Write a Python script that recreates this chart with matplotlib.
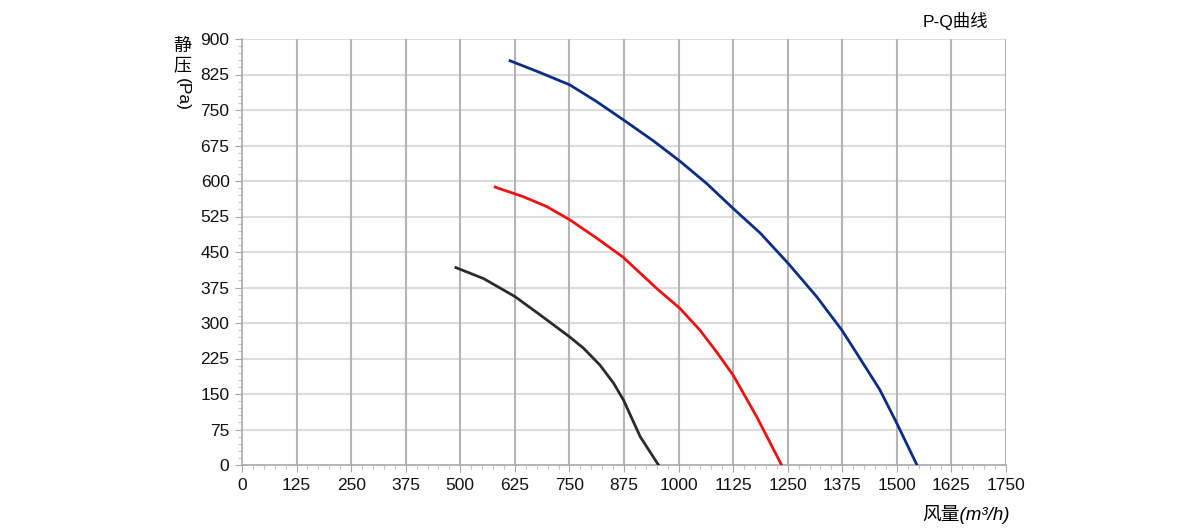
import matplotlib.pyplot as plt
from matplotlib.ticker import MultipleLocator

plt.rcParams['font.family'] = ['Liberation Sans', 'Noto Sans CJK SC', 'DejaVu Sans']

# P-Q curve data (flow m3/h, static pressure Pa)
q_low = [490, 553, 625, 683, 750, 782, 820, 851, 874, 912, 954]
p_low = [417, 394, 356, 317, 271, 247, 211, 173, 137, 60, 0]

q_mid = [580, 644, 698, 751, 813, 873, 950, 1003, 1049, 1087, 1125, 1179, 1236]
p_mid = [587, 567, 546, 518, 479, 439, 373, 331, 285, 239, 190, 102, 0]

q_high = [614, 683, 751, 812, 877, 942, 1003, 1064, 1125, 1187, 1251, 1316,
          1374, 1408, 1461, 1500, 1546]
p_high = [854, 829, 803, 768, 727, 685, 642, 595, 542, 490, 426, 356,
          285, 236, 159, 88, 0]

x_ticks = [0, 125, 250, 375, 500, 625, 750, 875, 1000, 1125, 1250, 1375, 1500, 1625, 1750]
y_ticks = [0, 75, 150, 225, 300, 375, 450, 525, 600, 675, 750, 825, 900]

fig = plt.figure(figsize=(12, 5.31), dpi=100)
ax = fig.add_axes([242/1200, 66/531, 764/1200, 426/531])

ax.set_xlim(0, 1750)
ax.set_ylim(0, 900)
ax.set_xticks(x_ticks)
ax.set_yticks(y_ticks)
ax.xaxis.set_minor_locator(MultipleLocator(25))
ax.yaxis.set_minor_locator(MultipleLocator(15))

for y in y_ticks[1:]:
    ax.axhline(y, color='#dcdcdc', lw=1.5, zorder=1)
for x in x_ticks[1:]:
    ax.axvline(x, color='#b4b4b4', lw=1.5, zorder=1)

ax.plot(q_low, p_low, color='#2b2b2b', lw=2, zorder=3, solid_joinstyle='round')
ax.plot(q_mid, p_mid, color='#ee1111', lw=2, zorder=3, solid_joinstyle='round')
ax.plot(q_high, p_high, color='#0b2d85', lw=2, zorder=3, solid_joinstyle='round')

for s in ['top', 'right']:
    ax.spines[s].set_visible(False)
for s in ['left', 'bottom']:
    ax.spines[s].set_color('#a8a8a8')
    ax.spines[s].set_linewidth(1.2)

ax.tick_params(which='major', length=5, color='#a8a8a8', labelsize=12.5,
               labelcolor='#111111', pad=4)
ax.tick_params(which='minor', length=3, color='#b8b8b8')

fig.text(955/1200, 1 - 21/531, 'P-Q曲线', ha='center', va='center', fontsize=12.5)

# vertical y label: CJK upright, latin rotated
fig.text(182/1200, 1 - 46/531, '静', ha='center', va='center', fontsize=13)
fig.text(182/1200, 1 - 66/531, '压', ha='center', va='center', fontsize=13)
fig.text(182/1200, 1 - 94/531, '(Pa)', ha='center', va='center', fontsize=12.5, rotation=-90)

fig.text(1010/1200, 1 - 514/531, '风量(m³/h)', ha='right', va='center',
         fontsize=13.5, style='italic')

fig.savefig('out.png', dpi=100)
